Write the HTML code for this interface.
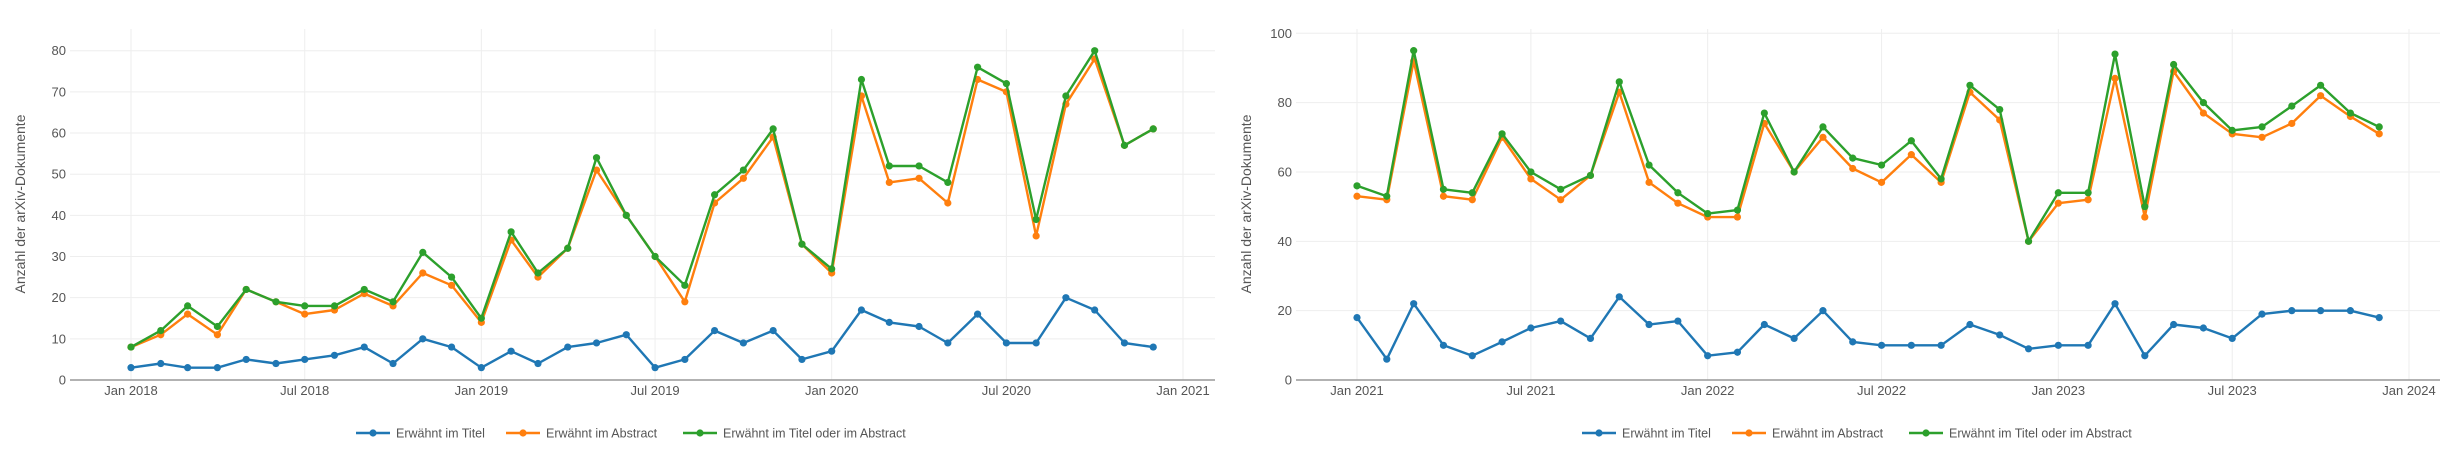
<!DOCTYPE html>
<html><head><meta charset="utf-8">
<style>
html,body{margin:0;padding:0;background:#fff;}
svg{display:block;font-family:"Liberation Sans",sans-serif;}
</style></head>
<body>
<svg id="root" width="2452" height="461" viewBox="0 0 2452 461" xmlns="http://www.w3.org/2000/svg"></svg>
<script>
// ---- Data: left chart (Jan 2018 – Dec 2020, monthly) ----
const leftStart = [2018, 0];
const leftTitel = [3,4,3,3,5,4,5,6,8,4,10,8,3,7,4,8,9,11,3,5,12,9,12,5,7,17,14,13,9,16,9,9,20,17,9,8];
const leftAbstract = [8,11,16,11,22,19,16,17,21,18,26,23,14,34,25,32,51,40,30,19,43,49,59,33,26,69,48,49,43,73,70,35,67,78,57,61];
const leftBoth = [8,12,18,13,22,19,18,18,22,19,31,25,15,36,26,32,54,40,30,23,45,51,61,33,27,73,52,52,48,76,72,39,69,80,57,61];
const leftYTicks = [0,10,20,30,40,50,60,70,80];
const leftXTicks = [[2018,0,"Jan 2018"],[2018,6,"Jul 2018"],[2019,0,"Jan 2019"],[2019,6,"Jul 2019"],[2020,0,"Jan 2020"],[2020,6,"Jul 2020"],[2021,0,"Jan 2021"]];
// ---- Data: right chart (Jan 2021 – Dec 2023, monthly) ----
const rightStart = [2021, 0];
const rightTitel = [18,6,22,10,7,11,15,17,12,24,16,17,7,8,16,12,20,11,10,10,10,16,13,9,10,10,22,7,16,15,12,19,20,20,20,18];
const rightAbstract = [53,52,92,53,52,70,58,52,59,83,57,51,47,47,74,60,70,61,57,65,57,83,75,40,51,52,87,47,89,77,71,70,74,82,76,71];
const rightBoth = [56,53,95,55,54,71,60,55,59,86,62,54,48,49,77,60,73,64,62,69,58,85,78,40,54,54,94,50,91,80,72,73,79,85,77,73];
const rightYTicks = [0,20,40,60,80,100];
const rightXTicks = [[2021,0,"Jan 2021"],[2021,6,"Jul 2021"],[2022,0,"Jan 2022"],[2022,6,"Jul 2022"],[2023,0,"Jan 2023"],[2023,6,"Jul 2023"],[2024,0,"Jan 2024"]];
const seriesNames = ["Erwähnt im Titel","Erwähnt im Abstract","Erwähnt im Titel oder im Abstract"];
const seriesColors = ["#1f77b4","#ff7f0e","#2ca02c"];

const NS = "http://www.w3.org/2000/svg";
const root = document.getElementById("root");
function mk(tag, attrs, parent){
  const e = document.createElementNS(NS, tag);
  for (const k in attrs) e.setAttribute(k, attrs[k]);
  parent.appendChild(e);
  return e;
}

function drawChart(prefix, ox, start, series, yTicks, yMax, xTicks){
  const g = mk("g", {}, root);
  
  
  const plotL = ox + 70, plotR = ox + 1215 + (prefix === 'right' ? -1 : 0) + 0;
  const plotRight = prefix === 'right' ? 2440 : 1215;
  const y0 = 380, yTop = 50.7 - (yMax === 80 ? 0 : 17.4);
  const yTopVal = prefix === 'right' ? 33.3 : 50.7;
  const ys = v => y0 - (v / yMax) * (y0 - yTopVal);
  const d0 = Date.UTC(xTicks[0][0], xTicks[0][1], 1);
  const d1 = Date.UTC(xTicks[6][0], xTicks[6][1], 1);
  const xa = ox + 131, xb = ox + 1183;
  const xs = (yr, m) => xa + (Date.UTC(yr, m, 1) - d0) / (d1 - d0) * (xb - xa);

  // y grid + labels
  yTicks.forEach(t => {
    if (t !== 0) {
      const gl = mk("line", {x1: plotL, x2: plotRight, y1: ys(t), y2: ys(t), stroke: "#eeeeee", "stroke-width": 1}, g);
      
      
    }
    const tl = mk("text", {x: plotL - 4, y: ys(t) + 4.5, "text-anchor": "end", "font-size": 13, fill: "#555"}, g);
    tl.textContent = t;
    
    
  });
  // x grid + labels
  xTicks.forEach(t => {
    const x = xs(t[0], t[1]);
    const gl = mk("line", {x1: x, x2: x, y1: 29, y2: y0, stroke: "#eeeeee", "stroke-width": 1}, g);
    
    
    const tl = mk("text", {x: x, y: 395, "text-anchor": "middle", "font-size": 13, fill: "#555"}, g);
    tl.textContent = t[2];
    
    
  });
  // zero axis line
  const ax = mk("line", {x1: plotL, x2: plotRight, y1: y0, y2: y0, stroke: "#999", "stroke-width": 1.5}, g);
  
  
  // y title
  const yt = mk("text", {x: 0, y: 0, transform: `translate(${ox + 25},204) rotate(-90)`, "text-anchor": "middle", "font-size": 14, fill: "#555"}, g);
  yt.textContent = "Anzahl der arXiv-Dokumente";
  
  

  // series
  series.forEach((vals, si) => {
    const sg = mk("g", {}, g);
    
    
    const pts = vals.map((v, i) => {
      const mm = start[1] + i;
      return [xs(start[0] + Math.floor(mm / 12), mm % 12), ys(v)];
    });
    const ln = mk("polyline", {points: pts.map(p => p[0].toFixed(1) + "," + p[1].toFixed(1)).join(" "), fill: "none", stroke: seriesColors[si], "stroke-width": 2.4, "stroke-linejoin": "round"}, sg);
    
    
    pts.forEach(p => {
      const c = mk("circle", {cx: p[0], cy: p[1], r: 3.6, fill: seriesColors[si]}, sg);
      
      
    });
  });

  // legend
  const lg = mk("g", {}, g);
  
  
  const lx = [356, 506, 683];
  seriesNames.forEach((n, i) => {
    const eg = mk("g", {}, lg);
    
    
    const x = ox + lx[i];
    mk("line", {x1: x, x2: x + 34, y1: 433, y2: 433, stroke: seriesColors[i], "stroke-width": 2.4}, eg);
    mk("circle", {cx: x + 17, cy: 433, r: 3.6, fill: seriesColors[i]}, eg);
    const t = mk("text", {x: x + 40, y: 437.5, "font-size": 12.5, fill: "#555"}, eg);
    t.textContent = n;
  });
}

drawChart('left', 0, leftStart, [leftTitel, leftAbstract, leftBoth], leftYTicks, 80, leftXTicks);
drawChart('right', 1226, rightStart, [rightTitel, rightAbstract, rightBoth], rightYTicks, 100, rightXTicks);
</script>
</body></html>
